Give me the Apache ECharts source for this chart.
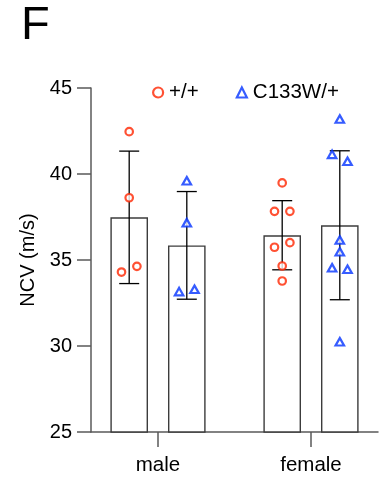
<!DOCTYPE html>
<html>
<head>
<meta charset="utf-8">
<script src="https://cdn.jsdelivr.net/npm/echarts@6/dist/echarts.min.js"></script>
<style>
  html, body { margin: 0; padding: 0; background: #fff; }
  #chart { width: 388px; height: 481px; }
</style>
</head>
<body>
<div id="chart"></div>
<script>
// Nerve conduction velocity by sex and genotype
const categories = ['male', 'female'];
const genotypes = ['+/+', 'C133W/+'];

// individual animals (m/s)
const wtMale = [42.46, 38.62, 34.63, 34.30];
const mutMale = [39.61, 37.17, 33.16, 33.30];
const wtFemale = [39.48, 37.83, 37.83, 36.01, 35.74, 34.65, 33.78];
const mutFemale = [43.20, 41.14, 40.74, 36.16, 35.48, 34.55, 34.46, 30.25];

// group means and standard deviations
const wtMean = [37.48, 36.44];
const wtSD = [3.85, 2.01];
const mutMean = [35.85, 37.02];
const mutSD = [3.13, 4.33];

const yTicks = [25, 30, 35, 40, 45];

// horizontal spread of the dots inside each bar (-1 left, 0 centre, 1 right)
const wtMaleSlot = [0, 0, 1, -1];
const mutMaleSlot = [0, 0, -1, 1];
const wtFemaleSlot = [0, -1, 1, 1, -1, 0, 0];
const mutFemaleSlot = [0, -1, 1, 0, 0, -1, 1, 0];

const RED = '#ff2600';
const BLUE = '#0433ff';
const FONT = 'Liberation Sans, Arial, Helvetica, sans-serif';
const BAR_W = 37.6;
const BAR_GAP = 20;
const HALF = (BAR_W + BAR_GAP) / 2;
const JIT = 7.7;
const CAP = 20;

function points(vals, slots, cat, side) {
  return vals.map((v, i) => ({
    value: [cat, v],
    symbolOffset: [side * HALF + slots[i] * JIT, 0]
  }));
}

function errData(means, sds) {
  return means.map((m, i) => [i, m, sds[i]]);
}

function errSeries(means, sds, side) {
  return {
    type: 'custom',
    xAxisIndex: 1, yAxisIndex: 1,
    z: 5,
    silent: true,
    data: errData(means, sds),
    renderItem: function (params, api) {
      const c = api.value(0), m = api.value(1), s = api.value(2);
      const top = api.coord([c, m + s]);
      const bot = api.coord([c, m - s]);
      const x = top[0] + side * HALF;
      const st = { stroke: '#000', lineWidth: 1.3 };
      return {
        type: 'group',
        children: [
          { type: 'line', shape: { x1: x, y1: top[1], x2: x, y2: bot[1] }, style: st },
          { type: 'line', shape: { x1: x - CAP / 2, y1: top[1], x2: x + CAP / 2, y2: top[1] }, style: st },
          { type: 'line', shape: { x1: x - CAP / 2, y1: bot[1], x2: x + CAP / 2, y2: bot[1] }, style: st }
        ]
      };
    }
  };
}

const circleStyle = { color: '#fff', borderColor: RED, borderWidth: 2.2 };
const triStyle = { color: '#fff', borderColor: BLUE, borderWidth: 2.2 };

const chart = echarts.init(document.getElementById('chart'), null, { renderer: 'canvas' });
chart.setOption({
  animation: false,
  textStyle: { fontFamily: FONT },
  title: {
    text: 'F', left: 16, top: -2,
    textStyle: { fontSize: 47, fontWeight: 'normal', color: '#000', fontFamily: FONT }
  },
  legend: {
    top: 77, left: 147,
    itemWidth: 10, itemHeight: 10, itemGap: 37,
    textStyle: { fontSize: 20.5, color: '#000', fontFamily: FONT, padding: [0, 0, 0, 1] },
    data: [
      { name: genotypes[0], icon: 'circle', itemStyle: circleStyle },
      { name: genotypes[1], icon: 'triangle', itemStyle: triStyle }
    ]
  },
  grid: [
    { left: 91, top: 88, width: 287, height: 344 },
    { left: 81.5, top: 88, width: 306, height: 344 }
  ],
  xAxis: [
    {
      gridIndex: 0, type: 'value', min: 0, max: 1,
      axisLine: { show: true, lineStyle: { color: '#5a5a5a', width: 1.5 } },
      axisTick: { show: false }, axisLabel: { show: false }, splitLine: { show: false }
    },
    {
      gridIndex: 1, type: 'category', data: categories,
      axisLine: { show: false },
      axisTick: { show: true, alignWithLabel: true, length: 15, lineStyle: { color: '#5a5a5a', width: 1.5 } },
      axisLabel: { fontSize: 20.5, color: '#000', margin: 23, fontFamily: FONT },
      splitLine: { show: false }
    }
  ],
  yAxis: [
    {
      gridIndex: 0, type: 'value', min: 25, max: 45, interval: 5,
      axisLine: { show: true, lineStyle: { color: '#5a5a5a', width: 1.5 } },
      axisTick: { show: true, length: 14, lineStyle: { color: '#5a5a5a', width: 1.5 } },
      axisLabel: {
        fontSize: 20, color: '#000', margin: 19, fontFamily: FONT,
        customValues: yTicks
      },
      splitLine: { show: false },
      name: 'NCV (m/s)', nameLocation: 'middle', nameGap: 45, nameRotate: 90,
      nameTextStyle: { fontSize: 20, color: '#000', fontFamily: FONT }
    },
    { gridIndex: 1, type: 'value', min: 25, max: 45, show: false }
  ],
  series: [
    {
      name: 'mean +/+', type: 'bar', xAxisIndex: 1, yAxisIndex: 1,
      data: wtMean, barWidth: BAR_W, barGap: (BAR_GAP / BAR_W * 100) + '%',
      itemStyle: { color: '#fff', borderColor: '#3c3c3c', borderWidth: 1.4 },
      silent: true
    },
    {
      name: 'mean C133W/+', type: 'bar', xAxisIndex: 1, yAxisIndex: 1,
      data: mutMean, barWidth: BAR_W,
      itemStyle: { color: '#fff', borderColor: '#3c3c3c', borderWidth: 1.4 },
      silent: true
    },
    errSeries(wtMean, wtSD, -1),
    errSeries(mutMean, mutSD, 1),
    {
      name: genotypes[0], type: 'scatter', xAxisIndex: 1, yAxisIndex: 1, z: 10,
      symbol: 'circle', symbolSize: 7.5, itemStyle: circleStyle,
      data: points(wtMale, wtMaleSlot, 0, -1).concat(points(wtFemale, wtFemaleSlot, 1, -1))
    },
    {
      name: genotypes[1], type: 'scatter', xAxisIndex: 1, yAxisIndex: 1, z: 10,
      symbol: 'triangle', symbolSize: [8.5, 7.5], itemStyle: triStyle,
      data: points(mutMale, mutMaleSlot, 0, 1).concat(points(mutFemale, mutFemaleSlot, 1, 1))
    }
  ]
});
</script>
</body>
</html>
